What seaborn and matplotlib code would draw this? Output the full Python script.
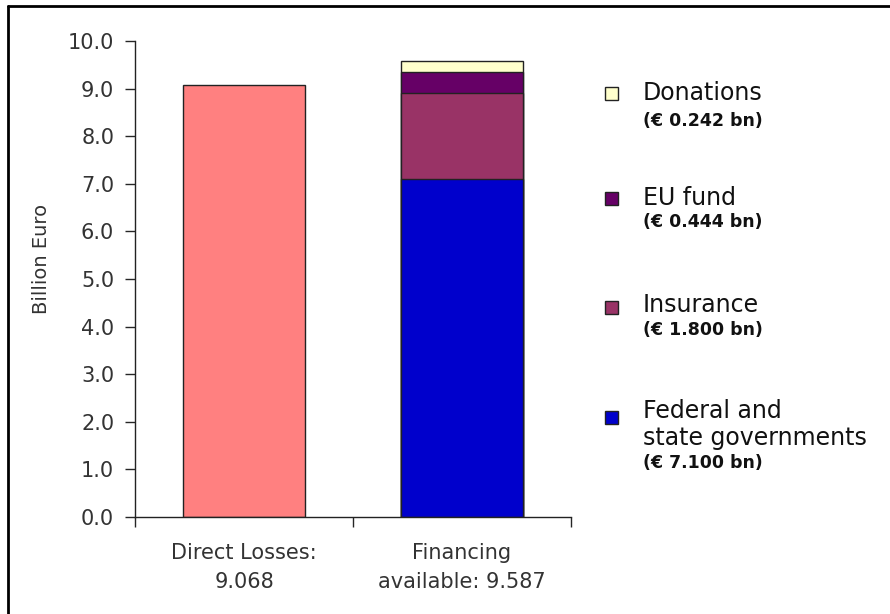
import matplotlib
matplotlib.use('Agg')
import matplotlib.pyplot as plt
import seaborn as sns
from matplotlib.lines import Line2D
from matplotlib.patches import Rectangle

sns.set_style('white')
plt.rcParams['font.family'] = ['DejaVu Sans']

# Data
categories = ['Direct Losses:\n9.068', 'Financing\navailable: 9.587']
direct_losses = 9.068
sources = ['Federal and\nstate governments', 'Insurance', 'EU fund', 'Donations']
source_values = [7.100, 1.800, 0.444, 0.242]
source_notes = ['(€ 7.100 bn)', '(€ 1.800 bn)', '(€ 0.444 bn)', '(€ 0.242 bn)']
source_colors = ['#0000CC', '#993366', '#660066', '#FFFFCC']
loss_color = '#FF8080'

fig = plt.figure(figsize=(8.9, 6.14), dpi=100)
ax = fig.add_axes([0.1517, 0.158, 0.4899, 0.775])

# Direct losses bar
sns.barplot(x=[categories[0]], y=[direct_losses], order=categories, color=loss_color,
            saturation=1, width=0.56, edgecolor='#222222', linewidth=1, ax=ax)

# Stacked financing bar: cumulative totals, tallest drawn first
cum = []
total = 0
for v in source_values:
    total += v
    cum.append(total)
for i in range(len(sources) - 1, -1, -1):
    sns.barplot(x=[categories[1]], y=[cum[i]], order=categories, color=source_colors[i],
                saturation=1, width=0.56, edgecolor='#222222', linewidth=1, ax=ax)

ax.set_xlim(-0.5, 1.5)
ax.set_ylim(0, 10)
ax.set_yticks(list(range(11)))
ax.set_yticklabels([f'{i:.1f}' for i in range(11)], fontsize=15, color='#333333')
ax.set_xticks([0, 1])
ax.set_xticklabels(categories, fontsize=15, color='#333333', linespacing=1.55)
ax.set_xticks([-0.5, 0.5, 1.5], minor=True)
ax.tick_params(axis='x', which='major', length=0, pad=19)
ax.tick_params(axis='x', which='minor', length=7, width=1, direction='out', bottom=True)
ax.tick_params(axis='y', length=7, width=1, direction='out', left=True, pad=8)
ax.set_xlabel('')
ax.set_ylabel('Billion Euro', fontsize=14, color='#333333')
ax.yaxis.set_label_coords(-0.193, 0.542)
sns.despine(ax=ax, top=True, right=True)
for s in ['left', 'bottom']:
    ax.spines[s].set_color('#222222')
    ax.spines[s].set_linewidth(1)

# Legend drawn as figure text, top to bottom
W, H = 890, 614
square_y = [93, 198, 307, 417]
name_y = [93, 198, 305, 424.5]
note_y = [121, 222, 330, 463]
for k, idx in enumerate([3, 2, 1, 0]):
    fig.patches.append(Rectangle((605 / W, 1 - (square_y[k] + 6.5) / H), 13 / W, 13 / H,
                                 transform=fig.transFigure, facecolor=source_colors[idx],
                                 edgecolor='#222222', linewidth=1))
    fig.text(643 / W, 1 - name_y[k] / H, sources[idx], fontsize=17, va='center', ha='left',
             linespacing=1.15, color='#111111')
    fig.text(643 / W, 1 - note_y[k] / H, source_notes[idx], fontsize=12.5, fontweight='bold',
             va='center', ha='left', color='#111111')

# Frame lines along top and left of the image
fig.add_artist(Line2D([8 / W, 8 / W], [0, 1 - 6 / H], transform=fig.transFigure,
                      color='black', linewidth=2))
fig.add_artist(Line2D([8 / W, 1], [1 - 6 / H, 1 - 6 / H], transform=fig.transFigure,
                      color='black', linewidth=2))

fig.savefig('out.png', dpi=100)
